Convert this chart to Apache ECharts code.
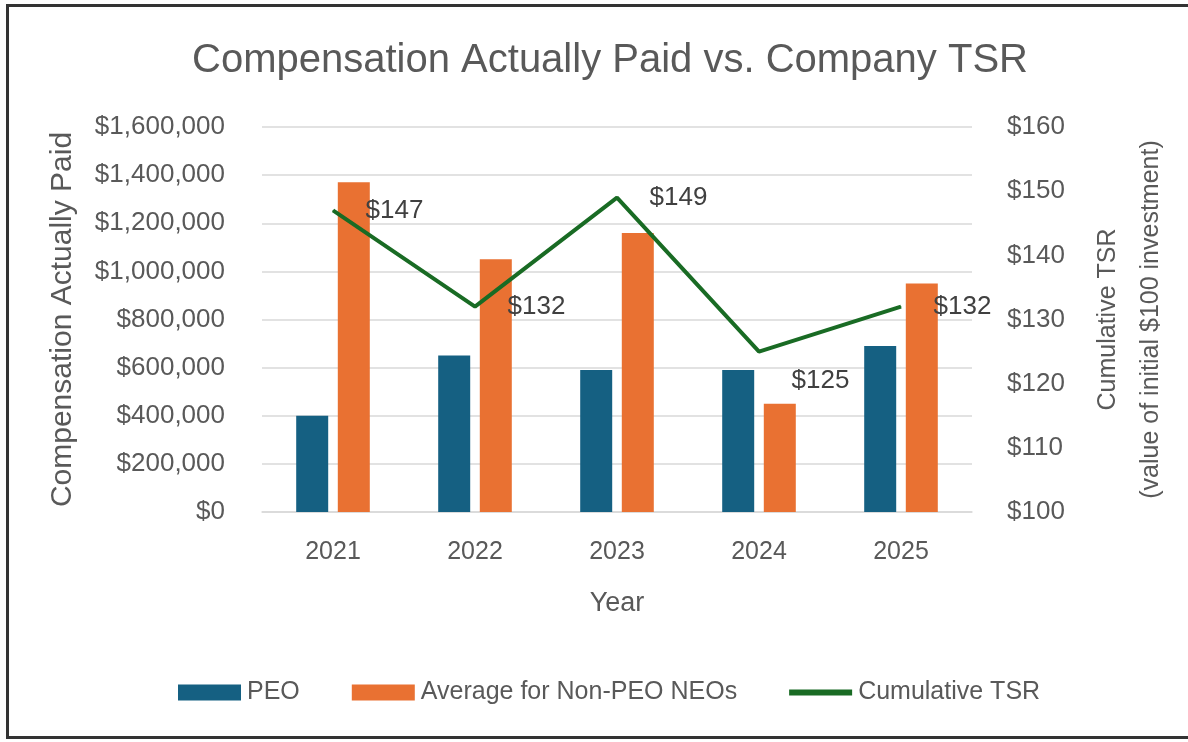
<!DOCTYPE html>
<html>
<head>
<meta charset="utf-8">
<title>Compensation Actually Paid vs. Company TSR</title>
<script src="https://cdn.jsdelivr.net/npm/echarts@6/dist/echarts.min.js"></script>
<style>
    html, body { margin: 0; padding: 0; background: #fff; }
    #frame {
        position: absolute; left: 6px; top: 4px; width: 1190px; height: 735px;
        border: 3px solid #333; border-right: none; box-sizing: border-box;
    }
    #chart { position: absolute; left: 0; top: 0; width: 1188px; height: 742px; }
</style>
</head>
<body>
<div id="frame"></div>
<div id="chart"></div>
<script>
// 数据
var years = ['2021', '2022', '2023', '2024', '2025'];
var peo = [400000, 650000, 590000, 590000, 690000];
var nonPeoAvg = [1370000, 1050000, 1160000, 450000, 950000];
var tsr = [147, 132, 149, 125, 132];

var grey = '#595959';
var font = 'Liberation Sans, Arial, sans-serif';

var myChart = echarts.init(document.getElementById('chart'));

function money(v) {
    return '$' + v.toString().replace(/\B(?=(\d{3})+(?!\d))/g, ',');
}

var option = {
    backgroundColor: 'transparent',
    textStyle: { fontFamily: font },
    title: {
        text: 'Compensation Actually Paid vs. Company TSR',
        left: 605,
        textAlign: 'center',
        top: 36,
        textStyle: { fontSize: 40, fontWeight: 'normal', color: grey, fontFamily: font }
    },
    legend: {
        bottom: 32,
        left: 173,
        itemWidth: 63,
        itemHeight: 16,
        itemGap: 52,
        textStyle: { fontSize: 25, color: grey, fontFamily: font, padding: [0, 0, 0, 1] },
        data: [
            { name: 'PEO', icon: 'rect' },
            { name: 'Average for Non-PEO NEOs', icon: 'rect' },
            { name: 'Cumulative TSR', icon: 'path://M0,0 L63,0 L63,6 L0,6 Z' }
        ]
    },
    grid: { left: 262, right: 216, top: 127, bottom: 230 },
    xAxis: {
        type: 'category',
        data: years,
        name: 'Year',
        nameLocation: 'middle',
        nameGap: 78,
        nameTextStyle: { fontSize: 27, color: grey },
        axisLine: { lineStyle: { color: '#d9d9d9', width: 1.5 } },
        axisTick: { show: false },
        axisLabel: { fontSize: 25, color: grey, margin: 28 }
    },
    yAxis: [
        {
            type: 'value',
            min: 0,
            max: 1600000,
            interval: 200000,
            name: 'Compensation Actually Paid',
            nameLocation: 'middle',
            nameGap: 184,
            nameTextStyle: { fontSize: 30, color: grey },
            axisLine: { show: false },
            axisTick: { show: false },
            splitLine: { lineStyle: { color: '#d9d9d9', width: 1.5 } },
            axisLabel: { fontSize: 26, color: grey, margin: 37, formatter: money }
        },
        {
            type: 'value',
            min: 100,
            max: 160,
            interval: 10,
            position: 'right',
            name: 'Cumulative TSR\n(value of initial $100 investment)',
            nameLocation: 'middle',
            nameRotate: 90,
            nameGap: 115,
            nameTextStyle: { fontSize: 25, color: grey, lineHeight: 43 },
            axisLine: { show: false },
            axisTick: { show: false },
            splitLine: { show: false },
            axisLabel: { fontSize: 26, color: grey, margin: 35, formatter: function (v) { return '$' + v; } }
        }
    ],
    series: [
        {
            name: 'PEO',
            type: 'bar',
            data: peo,
            barWidth: 32,
            barGap: '30%',
            itemStyle: { color: '#156082' }
        },
        {
            name: 'Average for Non-PEO NEOs',
            type: 'bar',
            data: nonPeoAvg,
            barWidth: 32,
            itemStyle: { color: '#E97132' }
        },
        {
            name: 'Cumulative TSR',
            type: 'line',
            yAxisIndex: 1,
            data: tsr.map(function (v, i) {
                // 2024 的标签在点的右下方
                if (i === 3) {
                    return { value: v, label: { offset: [0, 29] } };
                }
                return v;
            }),
            symbol: 'circle',
            symbolSize: 1,
            lineStyle: { color: '#196B24', width: 4 },
            itemStyle: { color: '#196B24' },
            label: {
                show: true,
                position: 'right',
                distance: 32,
                fontSize: 26,
                color: '#404040',
                formatter: function (p) { return '$' + p.value; }
            },
            z: 5
        }
    ]
};

myChart.setOption(option);
</script>
</body>
</html>
